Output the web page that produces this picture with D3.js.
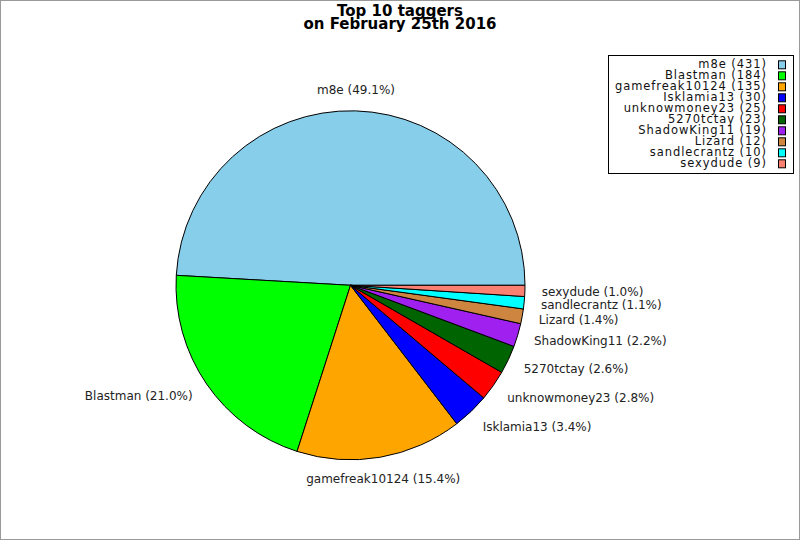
<!DOCTYPE html>
<html>
<head>
<meta charset="utf-8">
<script src="https://cdn.jsdelivr.net/npm/d3@7"></script>
<style>
  body { margin: 0; background: #fff; }
  svg { display: block; font-family: "DejaVu Sans", sans-serif; }
</style>
</head>
<body>
<div id="chart"></div>
<script>
// data
const names = ["m8e", "Blastman", "gamefreak10124", "Isklamia13", "unknowmoney23",
  "5270tctay", "ShadowKing11", "Lizard", "sandlecrantz", "sexydude"];
const counts = [431, 184, 135, 30, 25, 23, 19, 12, 10, 9];
const colors = ["#87ceeb", "#00ff00", "#ffa500", "#0000ff", "#ff0000",
  "#006400", "#a020f0", "#cd853f", "#00ffff", "#fa8072"];
const titleLines = ["Top 10 taggers", "on February 25th 2016"];

const width = 800, height = 540;
const cx = 350.5, cy = 285.3, r = 174.5;

const svg = d3.select("#chart").append("svg")
  .attr("width", width)
  .attr("height", height);

// frame round the whole picture
svg.append("rect")
  .attr("x", 0.5).attr("y", 0.5)
  .attr("width", width - 1).attr("height", height - 1)
  .attr("fill", "#fff")
  .attr("stroke", "#999");

svg.append("g").selectAll("text")
  .data(titleLines)
  .enter().append("text")
  .attr("x", 400)
  .attr("y", (d, i) => 16 + i * 13)
  .attr("text-anchor", "middle")
  .attr("font-size", "15px")
  .attr("font-weight", "bold")
  .text(d => d);

const total = d3.sum(counts);
const data = names.map((n, i) => ({name: n, value: counts[i], color: colors[i]}));

// starts at 3 o'clock and runs counter-clockwise
const pie = d3.pie()
  .sort(null)
  .value(d => d.value)
  .startAngle(Math.PI / 2)
  .endAngle(Math.PI / 2 - 2 * Math.PI);

const arc = d3.arc().innerRadius(0).outerRadius(r);
const arcs = pie(data);

const g = svg.append("g").attr("transform", "translate(" + cx + "," + cy + ")");

g.selectAll("path.slice")
  .data(arcs)
  .enter().append("path")
  .attr("class", "slice")
  .attr("d", arc)
  .attr("fill", d => d.data.color)
  .attr("stroke", "#000")
  .attr("stroke-width", 1)
  .attr("stroke-linejoin", "round");

// labels just outside the rim
g.selectAll("text.label")
  .data(arcs)
  .enter().append("text")
  .attr("class", "label")
  .attr("font-size", "12px")
  .attr("fill", "#222")
  .attr("dy", "0.35em")
  .attr("x", d => {
    let a = (d.startAngle + d.endAngle) / 2;
    return 1.097 * r * Math.sin(a);
  })
  .attr("y", d => {
    let a = (d.startAngle + d.endAngle) / 2;
    return -(1.097 * r + 4.5) * Math.cos(a);
  })
  .attr("text-anchor", d => {
    let s = Math.sin((d.startAngle + d.endAngle) / 2);
    if (Math.abs(s) < 0.3) return "middle";
    return s > 0 ? "start" : "end";
  })
  .text(d => d.data.name + " (" + (d.data.value / total * 100).toFixed(1) + "%)");

// legend, top right
const legend = svg.append("g");
legend.append("rect")
  .attr("x", 608.5).attr("y", 55.5)
  .attr("width", 185).attr("height", 118)
  .attr("fill", "#fff")
  .attr("stroke", "#000");

const rows = legend.selectAll("g.row")
  .data(data)
  .enter().append("g")
  .attr("class", "row")
  .attr("transform", (d, i) => "translate(0," + (68.3 + i * 11) + ")");

rows.append("text")
  .attr("x", 767)
  .attr("text-anchor", "end")
  .attr("font-size", "11.5px")
  .attr("letter-spacing", "0.95px")
  .attr("fill", "#111")
  .text(d => d.name + " (" + d.value + ")");

rows.append("rect")
  .attr("x", 778.5).attr("y", -7.5)
  .attr("width", 7).attr("height", 8)
  .attr("fill", d => d.color)
  .attr("stroke", "#000");
</script>
</body>
</html>
